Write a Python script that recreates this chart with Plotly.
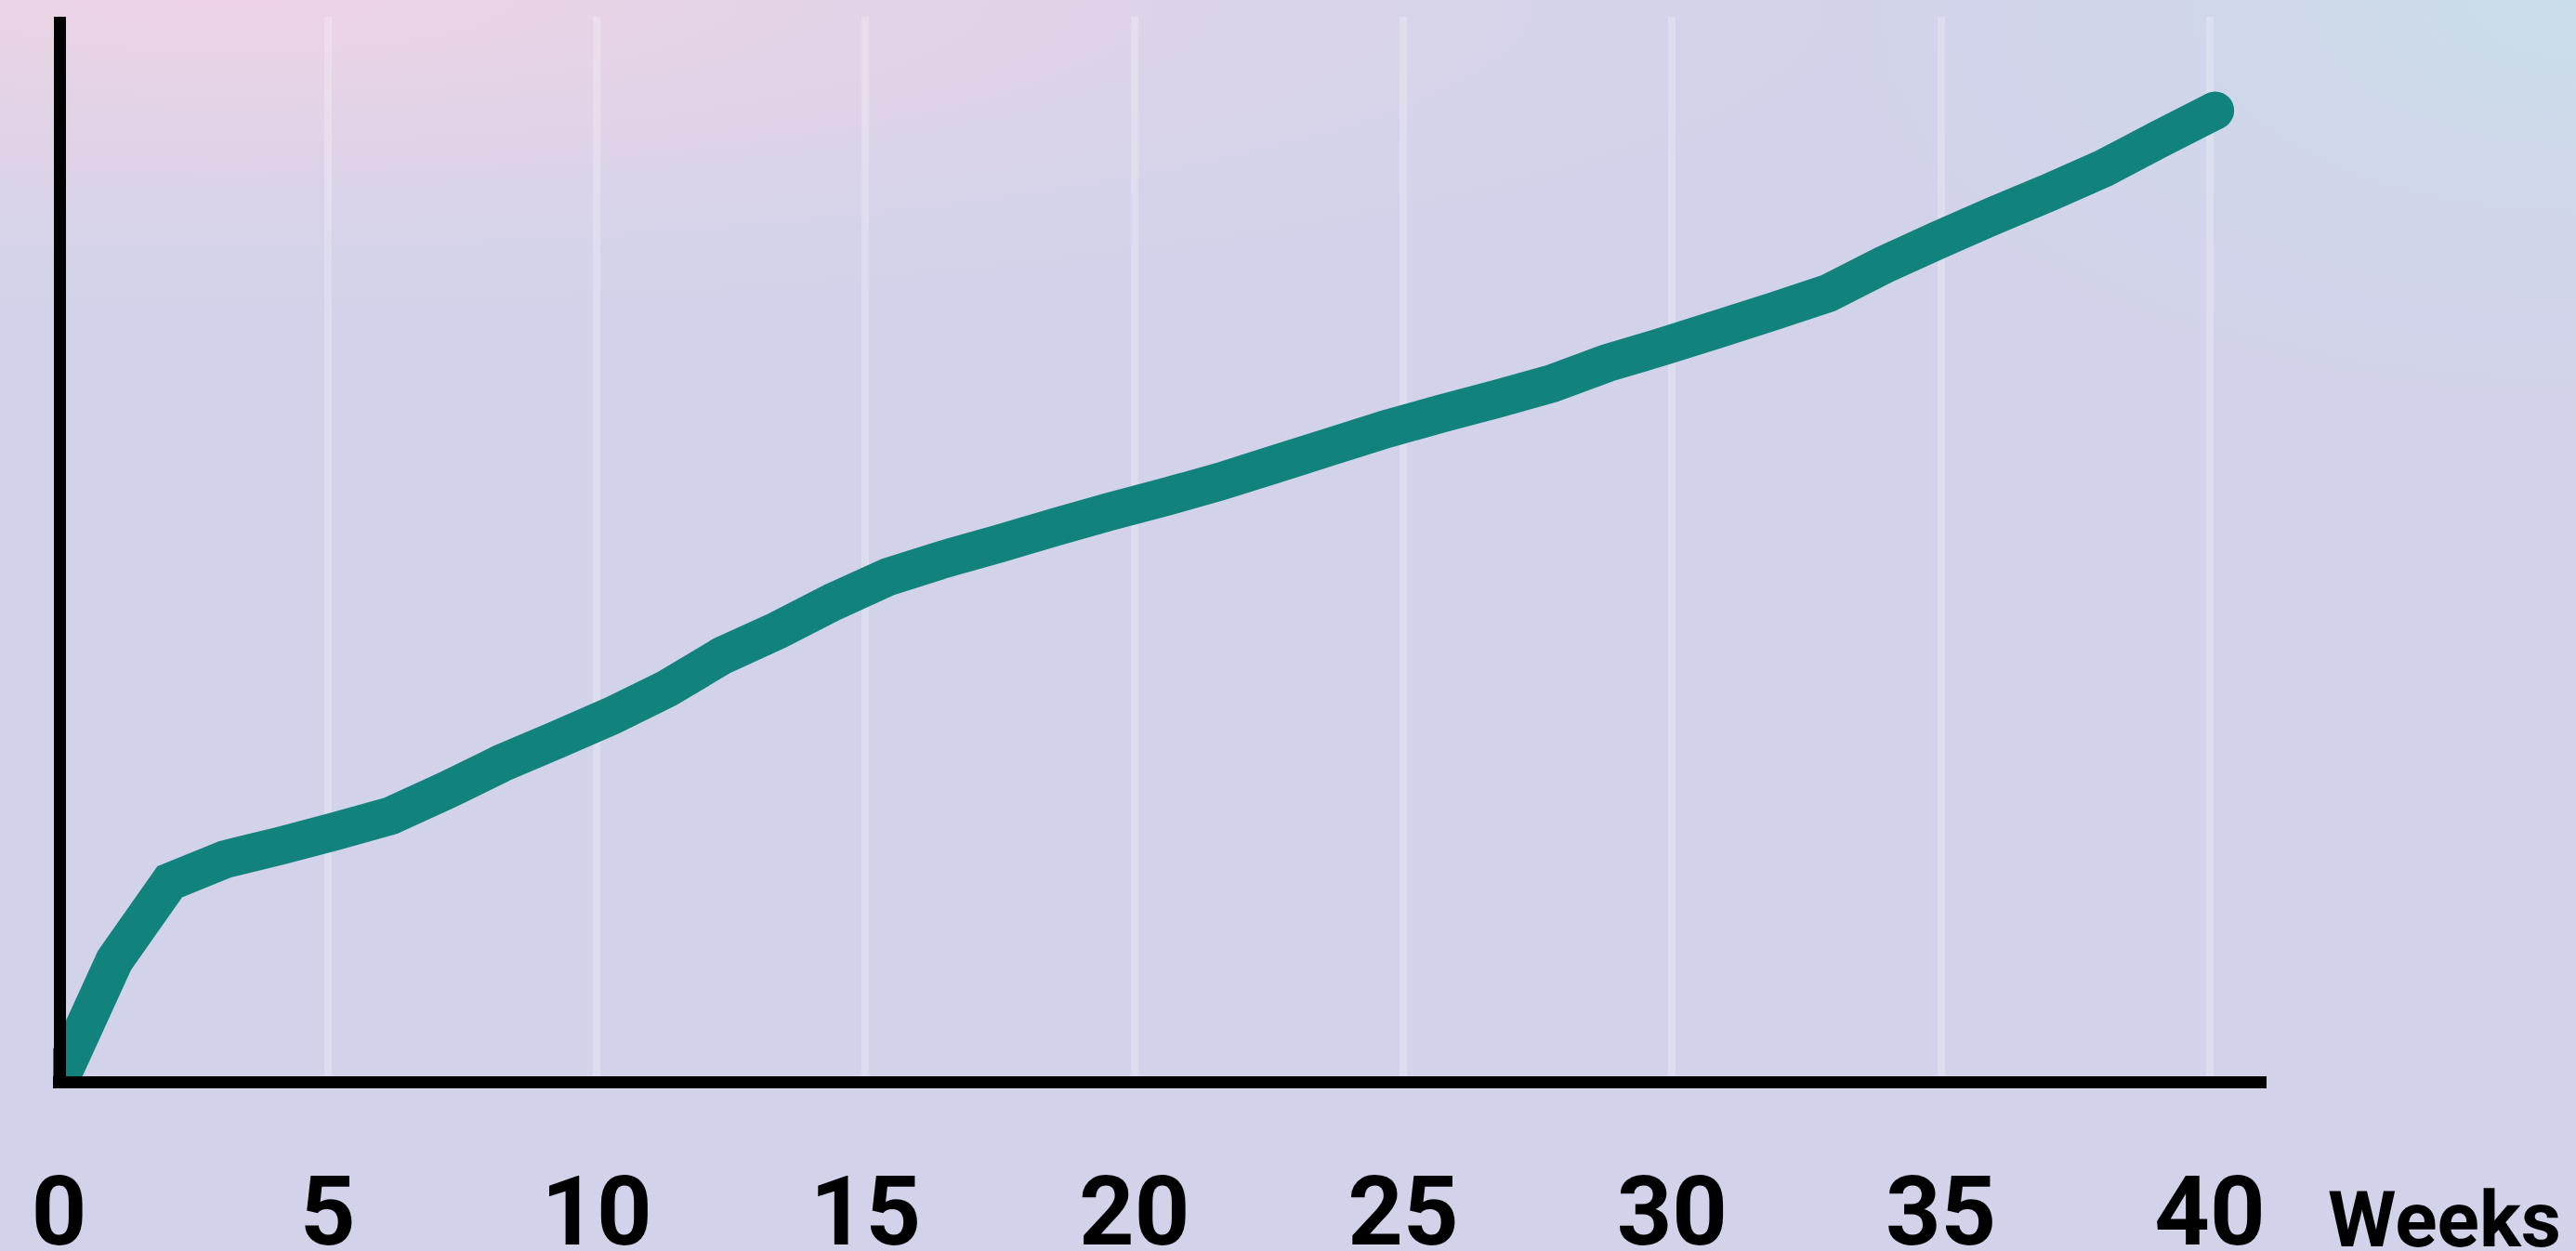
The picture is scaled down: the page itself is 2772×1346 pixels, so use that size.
import base64
import plotly.graph_objects as go

# ---- data ----
weeks = [0, 1.03, 2.06, 3.08, 4.11, 5.14, 6.17, 7.20, 8.23, 9.25,
         10.28, 11.31, 12.34, 13.37, 14.39, 15.42, 16.45, 17.48, 18.51, 19.54,
         20.56, 21.59, 22.62, 23.65, 24.68, 25.71, 26.73, 27.76, 28.79, 29.82,
         30.85, 31.87, 32.90, 33.93, 34.96, 35.99, 37.02, 38.04, 39.07, 40.10]
growth = [0.0, 12.5, 20.6, 22.9, 24.3, 25.8, 27.4, 30.0, 32.8, 35.2,
          37.7, 40.5, 43.9, 46.5, 49.4, 52.0, 53.8, 55.4, 57.1, 58.7,
          60.2, 61.8, 63.6, 65.4, 67.2, 68.8, 70.3, 71.9, 74.0, 75.7,
          77.5, 79.3, 81.2, 84.1, 86.7, 89.2, 91.6, 94.1, 97.1, 100.0]
tick_values = [0, 5, 10, 15, 20, 25, 30, 35, 40]
tick_labels = ["0", "5", "10", "15", "20", "25", "30", "35", "40"]
axis_title = "Weeks"

# ---- styling ----
W, H = 2772, 1346
ML, MR, MT, MB = 57, 333, 18, 175
TEAL = "#12827D"
BASE = "#D2D3EA"

svg = f'''<svg xmlns="http://www.w3.org/2000/svg" width="{W}" height="{H}" viewBox="0 0 {W} {H}">
<defs>
<radialGradient id="p" cx="250" cy="0" r="1" gradientUnits="userSpaceOnUse"
  gradientTransform="translate(250 0) scale(1900 360) translate(-250 0)">
<stop offset="0" stop-color="#EED3E4" stop-opacity="1"/>
<stop offset="0.5" stop-color="#E4D3E8" stop-opacity="0.7"/>
<stop offset="1" stop-color="#D2D3EA" stop-opacity="0"/>
</radialGradient>
<radialGradient id="b" cx="2772" cy="0" r="1" gradientUnits="userSpaceOnUse"
  gradientTransform="translate(2772 0) scale(950 520) translate(-2772 0)">
<stop offset="0" stop-color="#CADEEA" stop-opacity="1"/>
<stop offset="1" stop-color="#D2D3EA" stop-opacity="0"/>
</radialGradient>
</defs>
<rect width="{W}" height="{H}" fill="{BASE}"/>
<rect width="{W}" height="{H}" fill="url(#p)"/>
<rect width="{W}" height="{H}" fill="url(#b)"/>
</svg>'''
bg_uri = "data:image/svg+xml;base64," + base64.b64encode(svg.encode()).decode()

pw = W - ML - MR
ph = H - MT - MB

fig = go.Figure()
fig.add_trace(go.Scatter(x=weeks, y=growth, mode="lines",
                         line=dict(color=TEAL, width=41, simplify=False),
                         hoverinfo="skip", showlegend=False))
fig.add_trace(go.Scatter(x=[weeks[-1]], y=[growth[-1]], mode="markers",
                         marker=dict(color=TEAL, size=41, line=dict(width=0)),
                         hoverinfo="skip", showlegend=False))

px_per_week = 57.86
px_per_unit = 10.45
x0_px = 63.5  # pixel of week 0 from the left
y0_px = 1164  # pixel of value 0 from top
xr = [(ML - x0_px) / px_per_week, (W - MR - x0_px) / px_per_week]
yr = [-(H - MB - y0_px) / px_per_unit, (y0_px - MT) / px_per_unit]
x_zero_pos = (0 - xr[0]) / (xr[1] - xr[0])
y_zero_pos = (0 - yr[0]) / (yr[1] - yr[0])

fig.update_layout(
    width=W, height=H,
    margin=dict(l=ML, r=MR, t=MT, b=MB, pad=0, autoexpand=False),
    paper_bgcolor=BASE,
    plot_bgcolor="rgba(0,0,0,0)",
    images=[dict(source=bg_uri, xref="paper", yref="paper",
                 x=-ML / pw, y=1 + MT / ph, sizex=W / pw, sizey=H / ph,
                 xanchor="left", yanchor="top", sizing="stretch",
                 layer="below")],
    annotations=[dict(text=axis_title, xref="paper", yref="paper",
                      x=(2503 - ML) / pw, y=(H - MB - 1312) / ph,
                      xanchor="left", yanchor="middle", showarrow=False,
                      font=dict(family="Roboto", size=84, color="black", weight=700))],
)
fig.update_xaxes(range=xr, tickmode="array", tickvals=tick_values, ticktext=tick_labels,
                 anchor="free", position=y_zero_pos, automargin=False,
                 showgrid=True, gridcolor="rgba(255,255,255,0.24)", gridwidth=8,
                 zeroline=False, showline=True, linecolor="black", linewidth=13,
                 layer="above traces", ticks="", ticklabelstandoff=43,
                 tickfont=dict(family="Roboto", size=104, color="black", weight=700),
                 fixedrange=True)
fig.update_yaxes(range=yr, anchor="free", position=x_zero_pos, automargin=False,
                 showgrid=False, showticklabels=False,
                 zeroline=False, showline=True, linecolor="black", linewidth=13,
                 layer="above traces", ticks="", fixedrange=True)

fig.write_html("out.html", config={"displayModeBar": False})
